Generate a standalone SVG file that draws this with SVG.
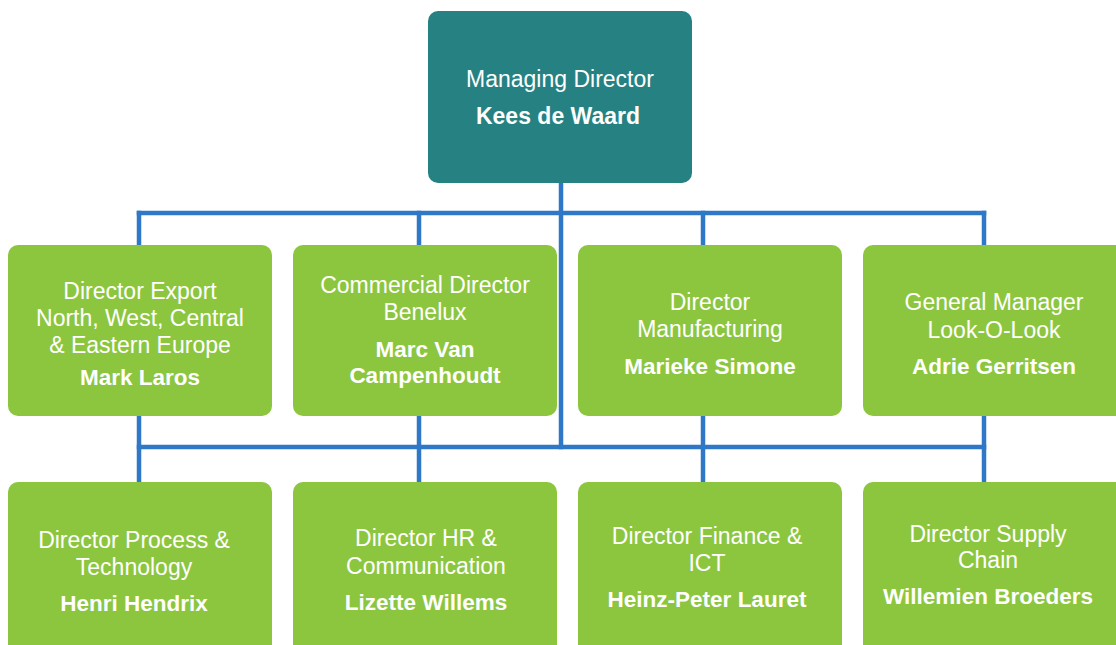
<svg xmlns="http://www.w3.org/2000/svg" width="1116" height="645" viewBox="0 0 1116 645">
<style>
.box{fill:#8cc63f}
.top{fill:#268282}
.t{font-family:"Liberation Sans",Arial,sans-serif;font-size:23px;fill:#ffffff;text-anchor:middle}
.n{font-family:"Liberation Sans",Arial,sans-serif;font-size:22.5px;font-weight:bold;fill:#ffffff;text-anchor:middle}
.c{stroke:#2f78c8;stroke-width:4.5;fill:none;stroke-linecap:square}
</style>
<rect width="1116" height="645" fill="#ffffff"/>
<g id="connectors">
<path class="c" d="M561 183 V447"/>
<path class="c" d="M139 213 H984"/>
<path class="c" d="M139 447 H984"/>
<path class="c" d="M139 213 V245 M419 213 V245 M703 213 V245 M984 213 V245"/>
<path class="c" d="M139 416 V483 M419 416 V483 M703 416 V483 M984 416 V483"/>
</g>
<g id="md">
<rect class="top" x="428" y="11" width="264" height="172" rx="10"/>
<text class="t" x="560" y="87">Managing Director</text>
<text class="n" x="558" y="124" style="font-size:23px">Kees de Waard</text>
</g>
<g id="export">
<rect class="box" x="8" y="245" width="264" height="171" rx="10"/>
<text class="t" x="140" y="299">Director Export</text>
<text class="t" x="140" y="326">North, West, Central</text>
<text class="t" x="140" y="353">&amp; Eastern Europe</text>
<text class="n" x="140" y="385">Mark Laros</text>
</g>
<g id="commercial">
<rect class="box" x="293" y="245" width="264" height="171" rx="10"/>
<text class="t" x="425" y="293">Commercial Director</text>
<text class="t" x="425" y="320">Benelux</text>
<text class="n" x="425" y="357">Marc Van</text>
<text class="n" x="425" y="383">Campenhoudt</text>
</g>
<g id="manufacturing">
<rect class="box" x="578" y="245" width="264" height="171" rx="10"/>
<text class="t" x="710" y="310">Director</text>
<text class="t" x="710" y="337">Manufacturing</text>
<text class="n" x="710" y="374">Marieke Simone</text>
</g>
<g id="lookolook">
<rect class="box" x="863" y="245" width="264" height="171" rx="10"/>
<text class="t" x="994" y="310">General Manager</text>
<text class="t" x="994" y="338">Look-O-Look</text>
<text class="n" x="994" y="374">Adrie Gerritsen</text>
</g>
<g id="process">
<rect class="box" x="8" y="482" width="264" height="180" rx="10"/>
<text class="t" x="134" y="548">Director Process &amp;</text>
<text class="t" x="134" y="575">Technology</text>
<text class="n" x="134" y="611">Henri Hendrix</text>
</g>
<g id="hr">
<rect class="box" x="293" y="482" width="264" height="180" rx="10"/>
<text class="t" x="426" y="546">Director HR &amp;</text>
<text class="t" x="426" y="574">Communication</text>
<text class="n" x="426" y="610">Lizette Willems</text>
</g>
<g id="finance">
<rect class="box" x="578" y="482" width="264" height="180" rx="10"/>
<text class="t" x="707" y="544">Director Finance &amp;</text>
<text class="t" x="707" y="571">ICT</text>
<text class="n" x="707" y="607">Heinz-Peter Lauret</text>
</g>
<g id="supply">
<rect class="box" x="863" y="482" width="264" height="180" rx="10"/>
<text class="t" x="988" y="542">Director Supply</text>
<text class="t" x="988" y="568">Chain</text>
<text class="n" x="988" y="604">Willemien Broeders</text>
</g>
</svg>
